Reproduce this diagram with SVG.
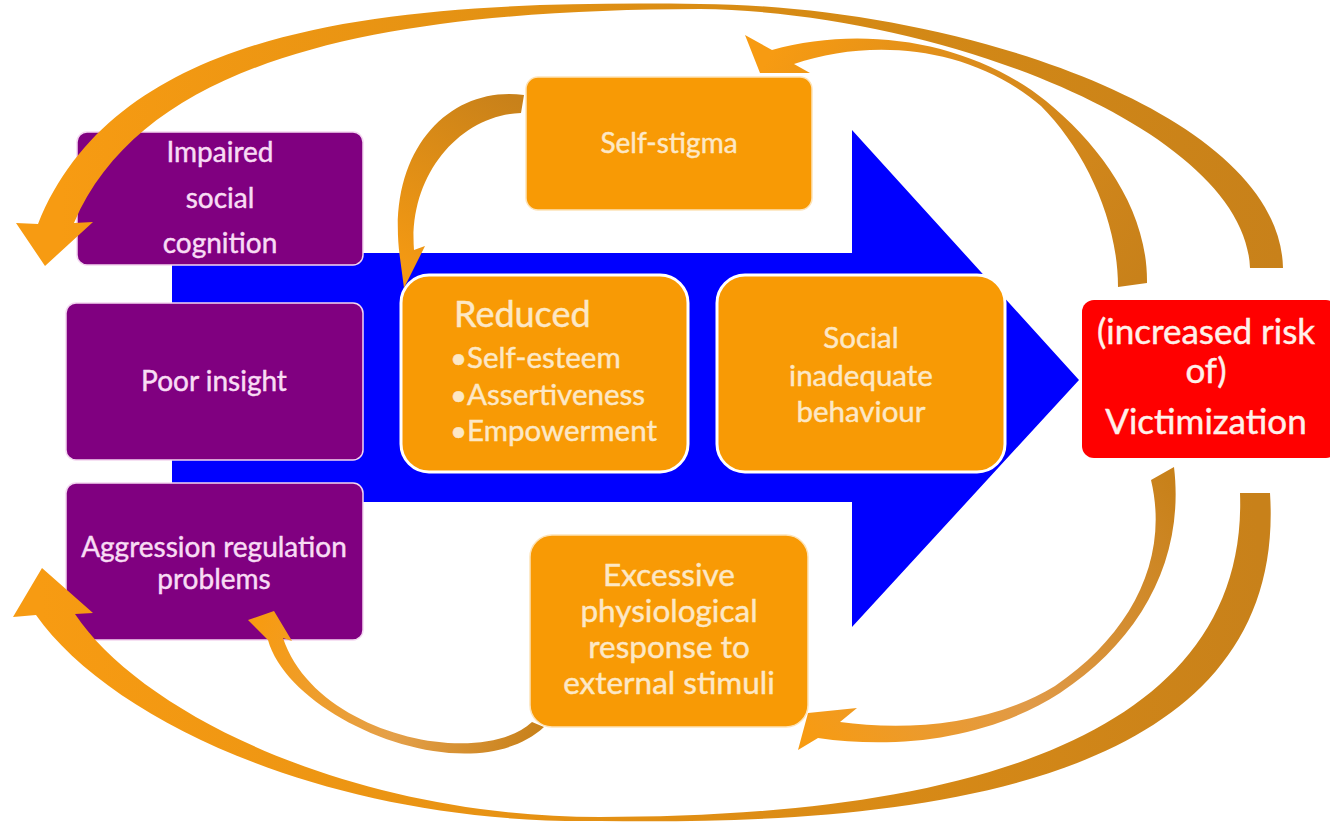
<svg xmlns="http://www.w3.org/2000/svg" width="1330" height="822" viewBox="0 0 1330 822">
<style>
.pbox{fill:#800080;stroke:#f3d6f0;stroke-width:1.5}
.obox{fill:#f89a05;stroke:#fde3b8;stroke-width:1.5}
.obox2{fill:#f89a05;stroke:#ffffff;stroke-width:3}
.rbox{fill:#ff0000}
text{font-family:Lato,"Open Sans","Liberation Sans",sans-serif;text-anchor:middle;stroke-width:0.45}
.tp{fill:#f8dcf4;stroke:#f8dcf4;font-size:28px}
.to{fill:#fde8c6;stroke:#fde8c6;font-size:29.5px}
.tr{fill:#fff0ea;stroke:#fff0ea;font-size:35px}
</style>
<defs>
<linearGradient id="gA" gradientUnits="userSpaceOnUse" x1="1280" y1="260" x2="60" y2="230">
<stop offset="0" stop-color="#c8811a"/><stop offset="0.45" stop-color="#d88c14"/><stop offset="1" stop-color="#f79b12"/></linearGradient>
<linearGradient id="gB" gradientUnits="userSpaceOnUse" x1="1135" y1="285" x2="770" y2="55">
<stop offset="0" stop-color="#c8811a"/><stop offset="0.6" stop-color="#dc8d1c"/><stop offset="1" stop-color="#f79b12"/></linearGradient>
<linearGradient id="gC" gradientUnits="userSpaceOnUse" x1="522" y1="104" x2="408" y2="285">
<stop offset="0" stop-color="#c8811a"/><stop offset="1" stop-color="#f79b12"/></linearGradient>
<linearGradient id="gD" gradientUnits="userSpaceOnUse" x1="540" y1="725" x2="260" y2="625">
<stop offset="0" stop-color="#c8811a"/><stop offset="0.45" stop-color="#e4a04a"/><stop offset="1" stop-color="#f79b12"/></linearGradient>
<linearGradient id="gE" gradientUnits="userSpaceOnUse" x1="1255" y1="495" x2="40" y2="600">
<stop offset="0" stop-color="#c8811a"/><stop offset="0.5" stop-color="#e18f14"/><stop offset="1" stop-color="#f79b12"/></linearGradient>
<linearGradient id="gF" gradientUnits="userSpaceOnUse" x1="1162" y1="472" x2="805" y2="735">
<stop offset="0" stop-color="#c8811a"/><stop offset="0.55" stop-color="#e09a48"/><stop offset="1" stop-color="#f79b12"/></linearGradient>
</defs>
<rect width="1330" height="822" fill="#ffffff"/>
<g id="flow-arrow">
<polygon points="172,253 852,253 852,130 1079,380 852,627 852,502 172,502" fill="#0000ff"/>
</g>
<g id="impaired-social-cognition">
<rect class="pbox" x="77" y="132" width="286" height="133" rx="10"/>
<text class="tp" x="220" y="162">Impaired</text>
<text class="tp" x="220" y="208">social</text>
<text class="tp" x="220" y="253">cognition</text>
</g>
<g id="poor-insight">
<rect class="pbox" x="66" y="303" width="297" height="157" rx="10"/>
<text class="tp" x="214" y="391">Poor insight</text>
</g>
<g id="aggression-regulation">
<rect class="pbox" x="66" y="483" width="297" height="157" rx="10"/>
<text class="tp" x="214" y="557">Aggression regulation</text>
<text class="tp" x="214" y="589">problems</text>
</g>
<g id="self-stigma">
<rect class="obox" x="526" y="77" width="286" height="133" rx="12"/>
<text class="to" x="669" y="153" style="font-size:28px">Self-stigma</text>
</g>
<g id="reduced">
<rect class="obox2" x="401" y="275" width="287" height="197" rx="28"/>
<text class="to" x="454" y="327" style="text-anchor:start;font-size:36px">Reduced</text>
<text class="to" x="450" y="368" style="text-anchor:start">•Self-esteem</text>
<text class="to" x="450" y="405" style="text-anchor:start">•Assertiveness</text>
<text class="to" x="450" y="441" style="text-anchor:start">•Empowerment</text>
</g>
<g id="social-inadequate-behaviour">
<rect class="obox2" x="717" y="275" width="288" height="197" rx="28"/>
<text class="to" x="861" y="348">Social</text>
<text class="to" x="861" y="386">inadequate</text>
<text class="to" x="861" y="422">behaviour</text>
</g>
<g id="victimization">
<rect class="rbox" x="1082" y="300" width="256" height="158" rx="12"/>
<text class="tr" x="1206" y="344">(increased risk</text>
<text class="tr" x="1206" y="383">of)</text>
<text class="tr" x="1206" y="434">Victimization</text>
</g>
<g id="excessive-response">
<rect class="obox" x="530" y="535" width="278" height="192" rx="22"/>
<text class="to" x="669" y="586" style="font-size:31.5px">Excessive</text>
<text class="to" x="669" y="622" style="font-size:31.5px">physiological</text>
<text class="to" x="669" y="658" style="font-size:31.5px">response to</text>
<text class="to" x="669" y="694" style="font-size:31.5px">external stimuli</text>
</g>
<g id="connectors">
<path id="arc-victim-to-impaired" fill="url(#gA)" d="M 1283,268 C 1280,110 950,5 700,4 C 400,0 120,20 38,224 L 16,223 L 45,266 L 93,222 L 74,223 C 150,45 420,10 700,9 C 940,12 1245,130 1250,268 Z"/>
<path id="arc-victim-to-selfstigma" fill="url(#gB)" d="M 1147,283 C 1148,210 1100,145 1046,101 C 970,40 860,25 772,50 L 745,35 L 760,73 L 810,73 L 794,64 C 870,38 970,45 1041,106 C 1085,150 1118,220 1118,287 Z"/>
<path id="arc-selfstigma-to-reduced" fill="url(#gC)" d="M 524,95 C 450,85 385,150 400,258 L 404,288 L 425,246 L 414,250 C 408,175 460,115 521,113 Z"/>
<path id="arc-excessive-to-aggression" fill="url(#gD)" d="M 544,727 C 470,795 290,720 268,640 L 248,620 L 274,611 L 292,641 L 283,638 C 315,735 480,770 532,722 Z"/>
<path id="arc-victim-to-aggression" fill="url(#gE)" d="M 1270,493 C 1290,800 880,825 600,821 C 330,825 110,720 36,615 L 13,617 L 42,568 L 93,613 L 75,614 C 140,712 350,817 600,817 C 880,817 1250,770 1240,493 Z"/>
<path id="arc-victim-to-excessive" fill="url(#gF)" d="M 1174,467 C 1185,560 1140,640 1060,693 C 990,738 900,750 818,738 L 798,750 L 808,713 L 857,708 L 840,722 C 900,730 985,728 1055,686 C 1130,635 1170,560 1151,480 Z"/>
</g>
</svg>
